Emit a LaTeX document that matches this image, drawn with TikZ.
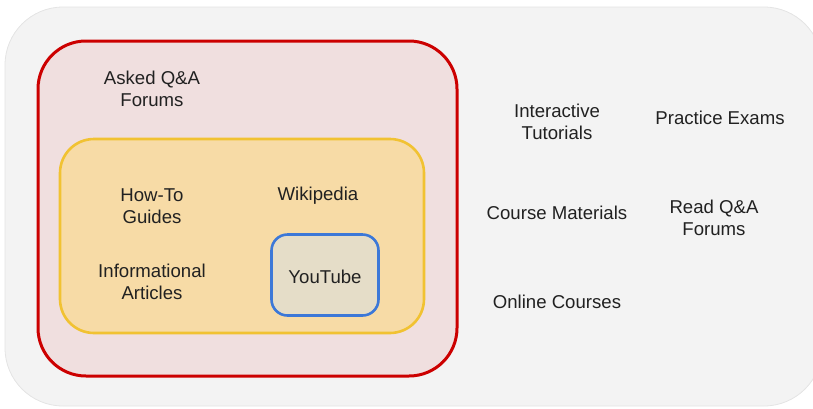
\documentclass[tikz,border=0pt]{standalone}
\usepackage{fontspec}
\setmainfont{Liberation Sans}
\begin{document}
\begin{tikzpicture}[x=1pt,y=-1pt,
  box/.style={rounded corners=#1},
  lbl/.style={align=center,font=\fontsize{18.6}{22.5}\selectfont,text=black!87,inner sep=0pt},
]
\useasboundingbox (0,0) rectangle (813,408);
\definecolor{outerfill}{HTML}{F3F3F3}
\definecolor{outerline}{HTML}{E4E4E4}
\definecolor{redline}{HTML}{CC0000}
\definecolor{redfill}{HTML}{F0DFDF}
\definecolor{yelline}{HTML}{F1C232}
\definecolor{yelfill}{HTML}{F7DBA6}
\definecolor{blueline}{HTML}{3C78D8}
\definecolor{bluefill}{HTML}{E5DDC8}
% outer panel
\path[box=58pt,fill=outerfill,draw=outerline,line width=0.8pt] (5,7) rectangle (822,406);
% red box
\node[box=48pt,fill=redfill,draw=redline,line width=3pt,minimum width=419pt,minimum height=335pt,inner sep=0pt] (red) at (247.5,208.5) {};
% yellow box
\node[box=34pt,fill=yelfill,draw=yelline,line width=2.6pt,minimum width=364pt,minimum height=194pt,inner sep=0pt] (yel) at (242,236) {};
% blue box
\node[box=16pt,fill=bluefill,draw=blueline,line width=2.6pt,minimum width=107pt,minimum height=81pt,inner sep=0pt] (blue) at (325,275) {};
% labels
\node[lbl] (asked) at (152,89) {Asked Q\&A\\Forums};
\node[lbl] (howto) at (152,206) {How-To\\Guides};
\node[lbl] (wiki) at (318,196) {Wikipedia};
\node[lbl] (info) at (152,282) {Informational\\Articles};
\node[lbl] (yt) at (325,277) {YouTube};
\node[lbl] (inter) at (557,122) {Interactive\\Tutorials};
\node[lbl] (pract) at (720,118) {Practice Exams};
\node[lbl] (course) at (557,213) {Course Materials};
\node[lbl] (read) at (714,218) {Read Q\&A\\Forums};
\node[lbl] (online) at (557,302) {Online Courses};
\end{tikzpicture}
\end{document}
